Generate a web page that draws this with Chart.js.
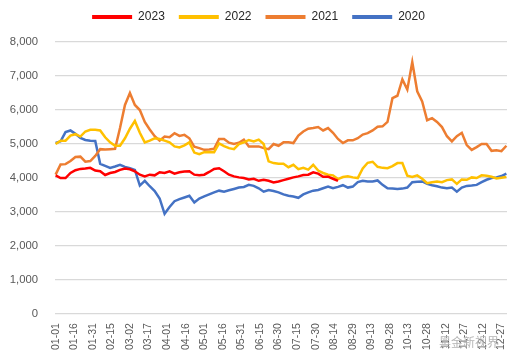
<!DOCTYPE html>
<html>
<head>
<meta charset="utf-8">
<script src="https://cdn.jsdelivr.net/npm/chart.js@4.4.1/dist/chart.umd.min.js"></script>
<style>
  body { margin: 0; background: #fff; }
  #wrap { position: relative; width: 515px; height: 362px; }
  #mark { position: absolute; left: 439px; top: 333px; font: 12px "Noto Sans CJK SC", sans-serif; color: #b4b4b4; }
</style>
</head>
<body>
<div id="wrap">
  <canvas id="myChart" width="515" height="362"></canvas>
  <div id="mark">黑金新视界</div>
</div>
<script>
'use strict';

// Global Variables

// x axis labels that are printed (every 15 days)
let tickLabels = ['01-01', '01-16', '01-31', '02-15', '03-02', '03-17', '04-01', '04-16', '05-01', '05-16',
  '05-31', '06-15', '06-30', '07-15', '07-30', '08-14', '08-29', '09-13', '09-28', '10-13',
  '10-28', '11-12', '11-27', '12-12', '12-27'];

// values read every 4th day, starting 01-01
let sampleStep = 4;

let values2023 = [4080, 4000, 4000, 4150, 4230, 4270, 4280, 4300, 4220, 4200,
  4090, 4150, 4180, 4240, 4280, 4260, 4200, 4100, 4050, 4100,
  4080, 4170, 4150, 4200, 4130, 4170, 4190, 4200, 4100, 4080,
  4100, 4180, 4270, 4290, 4200, 4100, 4050, 4020, 4000, 3960,
  3980, 3920, 3950, 3920, 3870, 3900, 3940, 3980, 4020, 4050,
  4090, 4100, 4170, 4130, 4040, 4040, 3980, 3920];

let values2022 = [5000, 5100, 5100, 5250, 5290, 5220, 5370, 5420, 5420, 5400,
  5200, 5050, 4950, 4950, 5170, 5450, 5680, 5330, 5050, 5100,
  5170, 5150, 5100, 5050, 4930, 4900, 4960, 5050, 4750, 4700,
  4760, 4770, 4760, 5020, 4940, 4880, 4850, 5000, 5050, 5120,
  5080, 5130, 5000, 4490, 4440, 4420, 4420, 4320, 4390, 4260,
  4300, 4250, 4390, 4220, 4150, 4100, 4080, 3970, 4030, 4050,
  4020, 4000, 4280, 4450, 4480, 4330, 4300, 4290, 4350, 4440,
  4440, 4070, 4030, 4080, 3980, 3850, 3880, 3900, 3880, 3940,
  3960, 3830, 3960, 3950, 4020, 4000, 4080, 4070, 4040, 3990,
  4010, 4030];

let values2021 = [4100, 4400, 4410, 4500, 4620, 4630, 4480, 4500, 4650, 4850,
  4840, 4850, 4860, 5470, 6150, 6500, 6150, 6000, 5650, 5430,
  5230, 5100, 5220, 5200, 5320, 5240, 5270, 5170, 4920, 4880,
  4830, 4840, 4860, 5150, 5150, 5040, 5000, 5040, 5130, 4930,
  4930, 4930, 4880, 4850, 5000, 4950, 5050, 5050, 5030, 5250,
  5370, 5450, 5470, 5500, 5400, 5470, 5330, 5150, 5030, 5110,
  5110, 5170, 5280, 5320, 5400, 5510, 5520, 5650, 6350, 6420,
  6900, 6600, 7410, 6550, 6250, 5700, 5760, 5650, 5500, 5230,
  5080, 5230, 5330, 4970, 4830, 4910, 5000, 5000, 4800, 4820,
  4790, 4950];

let values2020 = [5030, 5080, 5350, 5400, 5300, 5180, 5120, 5100, 5090, 4420,
  4360, 4300, 4340, 4390, 4330, 4290, 4240, 3780, 3920, 3760,
  3620, 3400, 2950, 3150, 3320, 3380, 3430, 3480, 3280, 3400,
  3460, 3520, 3580, 3630, 3600, 3640, 3680, 3720, 3740, 3800,
  3770, 3700, 3600, 3650, 3620, 3580, 3520, 3480, 3460, 3420,
  3520, 3580, 3630, 3650, 3700, 3750, 3700, 3740, 3790, 3720,
  3750, 3880, 3920, 3900, 3900, 3930, 3800, 3700, 3690, 3680,
  3690, 3720, 3880, 3890, 3900, 3830, 3790, 3760, 3720, 3700,
  3720, 3600, 3720, 3770, 3780, 3800, 3880, 3950, 4000, 4020,
  4060, 4130];

let yTicks = [0, 1000, 2000, 3000, 4000, 5000, 6000, 7000, 8000];

// every calendar day as a category, MM-DD
let allDays = [];
for (let i = 0; i < 365; i++) {
  let d = new Date(Date.UTC(2023, 0, 1 + i));
  let mm = String(d.getUTCMonth() + 1).padStart(2, '0');
  let dd = String(d.getUTCDate()).padStart(2, '0');
  allDays.push(`${mm}-${dd}`);
}

// put the sampled values on their days, gaps get spanned by the line
function placeValues(values) {
  let out = new Array(allDays.length).fill(null);
  for (let i = 0; i < values.length; i++) {
    out[i * sampleStep] = values[i];
  }
  return out;
}

function makeSeries(label, values, color) {
  return {
    label: label,
    data: placeValues(values),
    borderColor: color,
    backgroundColor: color,
    borderWidth: 2.5,
    pointRadius: 0,
    tension: 0,
    spanGaps: true
  };
}

// extra room under the legend
let legendGap = {
  id: 'legendGap',
  beforeInit(chart) {
    let legend = chart.legend;
    if (legend) {
      let origFit = legend.fit;
      legend.fit = function () {
        origFit.call(this);
        this.height += 9;
      };
    }
  }
};

let ctx = document.getElementById('myChart').getContext('2d');

let chartObject = {
  type: 'line',
  data: {
    labels: allDays,
    datasets: [
      makeSeries('2023', values2023, '#FF0000'),
      makeSeries('2022', values2022, '#FFC000'),
      makeSeries('2021', values2021, '#ED7D31'),
      makeSeries('2020', values2020, '#4472C4')
    ]
  },
  options: {
    responsive: false,
    animation: false,
    devicePixelRatio: 1,
    layout: {
      padding: { left: 10, right: 8, top: -3, bottom: 3 }
    },
    plugins: {
      tooltip: { enabled: false },
      legend: {
        position: 'top',
        labels: {
          boxWidth: 40,
          boxHeight: 4,
          padding: 14,
          color: '#262626',
          font: { family: 'Liberation Sans, Arial, sans-serif', size: 12 },
          generateLabels: function (chart) {
            let items = Chart.defaults.plugins.legend.labels.generateLabels(chart);
            return items.map(function (it) {
              it.lineWidth = 0;
              return it;
            });
          }
        }
      }
    },
    scales: {
      x: {
        offset: true,
        grid: { display: false, drawTicks: false },
        border: { display: false },
        afterFit: function (axis) {
          axis.paddingLeft = 0;
          axis.paddingRight = 0;
        },
        ticks: {
          autoSkip: false,
          maxRotation: 90,
          minRotation: 90,
          padding: 9,
          color: '#595959',
          font: { family: 'Liberation Sans, Arial, sans-serif', size: 10.5 },
          callback: function (val, idx) {
            let lab = allDays[idx];
            return tickLabels.includes(lab) ? lab : '';
          }
        }
      },
      y: {
        min: yTicks[0],
        max: yTicks[yTicks.length - 1],
        afterBuildTicks: function (axis) {
          axis.ticks = yTicks.map(function (v) { return { value: v }; });
        },
        afterFit: function (axis) {
          axis.width = 45;
        },
        grid: { color: '#d9d9d9', lineWidth: 1.3, drawTicks: false },
        border: { display: false },
        ticks: {
          padding: 17,
          color: '#595959',
          font: { family: 'Liberation Sans, Arial, sans-serif', size: 11.3 },
          callback: function (v) {
            return v.toLocaleString('en-US');
          }
        }
      }
    }
  },
  plugins: [legendGap]
};

new Chart(ctx, chartObject); //eslint-disable-line
</script>
</body>
</html>
